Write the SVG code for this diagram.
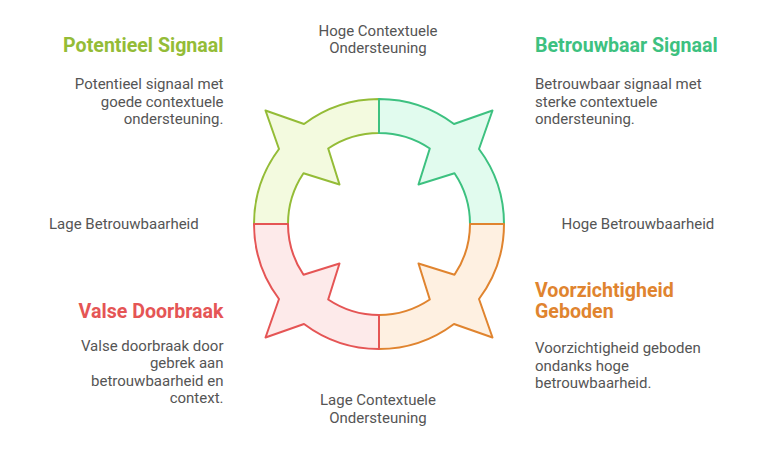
<svg xmlns="http://www.w3.org/2000/svg" width="772" height="457" viewBox="0 0 772 457">
<style>
.seg{stroke-width:2;stroke-linejoin:round}
.t{font-family:Roboto,"Liberation Sans",sans-serif;font-weight:700;font-size:19.6px}
.b{font-family:Roboto,"Liberation Sans",sans-serif;font-size:15px;fill:#555555}
.ax{font-family:Roboto,"Liberation Sans",sans-serif;font-size:15px;fill:#555555}
</style>
<defs>
<path id="q" d="M 254 224 A 125 125 0 0 1 279 149 L 265.5 110.5 L 304 124 A 125 125 0 0 1 379 99 L 379 133 A 91 91 0 0 0 328.2 148.5 L 339.5 184.5 L 303.5 173.2 A 91 91 0 0 0 288 224 Z"/>
</defs>
<rect width="772" height="457" fill="#ffffff"/>
<g id="cycle">
<g id="potentieel-segment"><use href="#q" class="seg" fill="#F3FADF" stroke="#94BC37"/></g>
<g id="betrouwbaar-segment"><use href="#q" class="seg" fill="#E1FBEE" stroke="#3DC180" transform="rotate(90 379 224)"/></g>
<g id="voorzichtigheid-segment"><use href="#q" class="seg" fill="#FEF0E1" stroke="#E0842F" transform="rotate(180 379 224)"/></g>
<g id="valse-segment"><use href="#q" class="seg" fill="#FDEAEA" stroke="#E55555" transform="rotate(270 379 224)"/></g>
</g>
<g id="axis-labels">
<text class="ax" text-anchor="middle" x="378" y="35.5">Hoge Contextuele</text>
<text class="ax" text-anchor="middle" x="378" y="53">Ondersteuning</text>
<text class="ax" text-anchor="middle" x="378" y="405">Lage Contextuele</text>
<text class="ax" text-anchor="middle" x="378" y="422.5">Ondersteuning</text>
<text class="ax" x="49" y="229">Lage Betrouwbaarheid</text>
<text class="ax" x="561.5" y="229">Hoge Betrouwbaarheid</text>
</g>
<g id="potentieel">
<text class="t" fill="#94BC37" text-anchor="end" x="223.5" y="51.5">Potentieel Signaal</text>
<text class="b" text-anchor="end" x="223.5" y="89">Potentieel signaal met</text>
<text class="b" text-anchor="end" x="223.5" y="106.5">goede contextuele</text>
<text class="b" text-anchor="end" x="223.5" y="124">ondersteuning.</text>
</g>
<g id="betrouwbaar">
<text class="t" fill="#3DC180" x="535" y="51.5">Betrouwbaar Signaal</text>
<text class="b" x="535" y="89">Betrouwbaar signaal met</text>
<text class="b" x="535" y="106.5">sterke contextuele</text>
<text class="b" x="535" y="124">ondersteuning.</text>
</g>
<g id="valse">
<text class="t" fill="#E55555" text-anchor="end" x="223.5" y="318">Valse Doorbraak</text>
<text class="b" text-anchor="end" x="223.5" y="350.5">Valse doorbraak door</text>
<text class="b" text-anchor="end" x="223.5" y="368">gebrek aan</text>
<text class="b" text-anchor="end" x="223.5" y="385.5">betrouwbaarheid en</text>
<text class="b" text-anchor="end" x="223.5" y="403">context.</text>
</g>
<g id="voorzichtigheid">
<text class="t" fill="#E0842F" x="535" y="296.5">Voorzichtigheid</text>
<text class="t" fill="#E0842F" x="535" y="318">Geboden</text>
<text class="b" x="535" y="353">Voorzichtigheid geboden</text>
<text class="b" x="535" y="370.5">ondanks hoge</text>
<text class="b" x="535" y="388">betrouwbaarheid.</text>
</g>
</svg>
